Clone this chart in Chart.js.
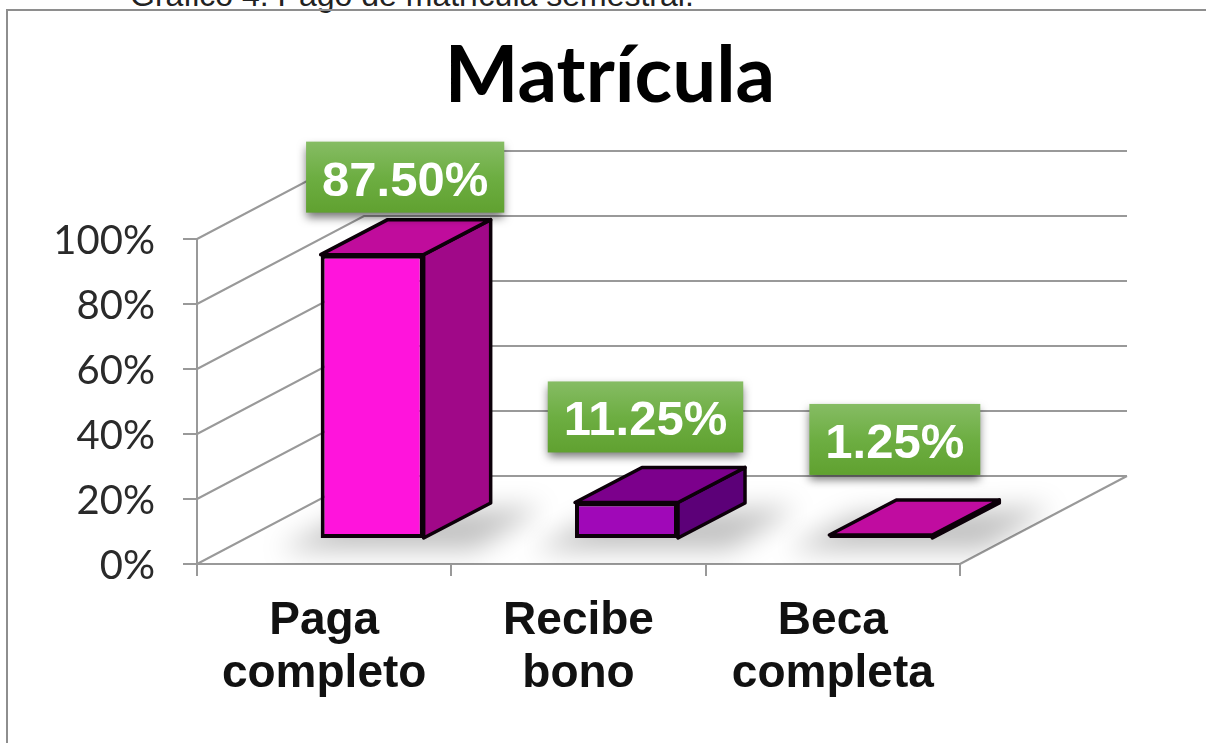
<!DOCTYPE html>
<html>
<head>
<meta charset="utf-8">
<title>Matrícula</title>
<script src="https://cdn.jsdelivr.net/npm/chart.js@4"></script>
<style>
  html, body { margin: 0; height: 100%; background: #fff; overflow: hidden; }
  #caption { position: absolute; left: 130px; top: -23px; font: 32px/36px "Liberation Sans", sans-serif; color: #222; white-space: nowrap; }
  #frame { position: absolute; left: 6px; top: 9px; width: 1300px; height: 800px; border-left: 2px solid #8e8e8e; border-top: 2px solid #8e8e8e; }
  canvas { display: block; filter: blur(0.5px); }
</style>
</head>
<body>
<div id="caption">Gráfico 4. Pago de matrícula semestral.</div>
<div id="frame"><canvas id="chart" width="1204" height="732"></canvas></div>
<script>
const categories = [["Paga", "completo"], ["Recibe", "bono"], ["Beca", "completa"]];
const values = [87.5, 11.25, 1.25];
const yTicks = [0, 20, 40, 60, 80, 100];
const chartTitle = "Matrícula";

// bar colours per category
const frontColors = ["#ff14dc", "#a008b8", "#400038"];
const sideColors = ["#a00888", "#5c0078", "#30002c"];
const topColors = ["#c00c9c", "#7c008c", "#c00ca0"];

// fake 3D: depth of the whole floor, and of the bars standing in the middle of it
const floorDepth = { x: 167, y: -88 };
const barShift = { x: 48, y: -25 };
const barDepth = { x: 67, y: -35 };
const gridColor = "#999999";
const labelShift = [{ x: 33, y: -7 }, { x: 19, y: -15 }, { x: 14, y: -25 }];

function pathOf(ctx, pts) {
    ctx.beginPath();
    pts.forEach((p, i) => i ? ctx.lineTo(p[0], p[1]) : ctx.moveTo(p[0], p[1]));
    ctx.closePath();
}

function barBox(bar) {
    const b = bar.getProps(["x", "y", "base", "width"], true);
    return { left: b.x - b.width / 2, right: b.x + b.width / 2, top: b.y, base: b.base };
}

const walls3d = {
    id: "walls3d",
    beforeDatasetsDraw(chart) {
        const { ctx, chartArea: a, scales: { y } } = chart;
        ctx.save();
        ctx.strokeStyle = gridColor;
        ctx.lineWidth = 2;
        yTicks.forEach(t => {
            const py = y.getPixelForValue(t);
            ctx.beginPath();
            ctx.moveTo(a.left, py);
            ctx.lineTo(a.left + floorDepth.x, py + floorDepth.y);
            ctx.lineTo(a.right + floorDepth.x, py + floorDepth.y);
            ctx.stroke();
        });
        ctx.beginPath();
        ctx.moveTo(a.right, a.bottom);
        ctx.lineTo(a.right + floorDepth.x, a.bottom + floorDepth.y);
        ctx.stroke();

        // soft shadows of the bars on the floor
        ctx.save();
        pathOf(ctx, [[a.left, a.bottom], [a.left + floorDepth.x, a.bottom + floorDepth.y],
            [a.right + floorDepth.x, a.bottom + floorDepth.y], [a.right, a.bottom]]);
        ctx.clip();
        ctx.filter = "blur(13px)";
        ctx.fillStyle = "rgba(0,0,0,0.24)";
        chart.getDatasetMeta(0).data.forEach(bar => {
            const b = barBox(bar);
            const l = b.left + barShift.x, r = b.right + barShift.x, yb = b.base + barShift.y;
            pathOf(ctx, [[l - 42, yb + 12], [l - 42 + barDepth.x, yb + 12 + barDepth.y],
                [r + 52 + barDepth.x, yb + 4 + barDepth.y], [r + 52, yb + 12]]);
            ctx.fill();
        });
        ctx.restore();
        ctx.restore();
    },
    beforeDatasetDraw(chart) {
        chart.ctx.save();
        chart.ctx.translate(barShift.x, barShift.y);
    },
    afterDatasetDraw(chart) {
        const ctx = chart.ctx;
        ctx.strokeStyle = "#0c0009";
        ctx.lineWidth = 3.5;
        ctx.lineJoin = "round";
        chart.getDatasetMeta(0).data.forEach((bar, i) => {
            const b = barBox(bar);
            const dx = barDepth.x, dy = barDepth.y;
            pathOf(ctx, [[b.right, b.top], [b.right + dx, b.top + dy], [b.right + dx, b.base + dy], [b.right, b.base]]);
            ctx.fillStyle = sideColors[i];
            ctx.fill();
            ctx.stroke();
            pathOf(ctx, [[b.left, b.top], [b.left + dx, b.top + dy], [b.right + dx, b.top + dy], [b.right, b.top]]);
            ctx.fillStyle = topColors[i];
            ctx.fill();
            ctx.stroke();
        });
        ctx.restore();
    }
};

const greenLabels = {
    id: "greenLabels",
    afterDraw(chart) {
        const ctx = chart.ctx;
        const h = 71;
        chart.getDatasetMeta(0).data.forEach((bar, i) => {
            const b = barBox(bar);
            const text = values[i].toFixed(2) + "%";
            ctx.save();
            ctx.font = 'bold 49px "Liberation Sans", sans-serif';
            const w = ctx.measureText(text).width + 32;
            const cx = (b.left + b.right) / 2 + barShift.x + labelShift[i].x;
            const bottom = b.top + barShift.y + barDepth.y + labelShift[i].y;
            const grad = ctx.createLinearGradient(0, bottom - h, 0, bottom);
            grad.addColorStop(0, "#86bc64");
            grad.addColorStop(0.5, "#6dae42");
            grad.addColorStop(1, "#60a130");
            ctx.shadowColor = "rgba(0,0,0,0.55)";
            ctx.shadowBlur = 9;
            ctx.shadowOffsetY = 5;
            ctx.fillStyle = grad;
            ctx.fillRect(cx - w / 2, bottom - h, w, h);
            ctx.shadowColor = "transparent";
            ctx.fillStyle = "#ffffff";
            ctx.textAlign = "center";
            ctx.textBaseline = "middle";
            ctx.fillText(text, cx, bottom - h / 2 + 5);
            ctx.restore();
        });
    }
};

new Chart(document.getElementById("chart"), {
    type: "bar",
    data: {
        labels: categories,
        datasets: [{
            data: values,
            backgroundColor: frontColors,
            borderColor: "#0c0009",
            borderWidth: 4,
            borderSkipped: false,
            barPercentage: 0.405,
            categoryPercentage: 1,
            clip: false
        }]
    },
    plugins: [walls3d, greenLabels],
    options: {
        responsive: false,
        animation: false,
        plugins: {
            legend: { display: false },
            tooltip: { enabled: false },
            title: {
                display: true,
                text: chartTitle,
                color: "#000000",
                font: { family: "Lato", weight: "bold", size: 78, lineHeight: 1.2 },
                padding: { top: 19, bottom: 115.4 }
            }
        },
        scales: {
            x: {
                border: { color: gridColor, width: 2 },
                grid: { color: gridColor, lineWidth: 2, drawOnChartArea: false, tickLength: 12 },
                ticks: {
                    color: "#111111",
                    padding: 19,
                    maxRotation: 0,
                    autoSkip: false,
                    font: { family: "Liberation Sans", weight: "bold", size: 46, lineHeight: 1.15 }
                },
                afterFit(scale) { scale.height = 179; }
            },
            y: {
                min: 0,
                max: 100,
                border: { color: gridColor, width: 2 },
                grid: { color: gridColor, lineWidth: 2, drawOnChartArea: false, tickLength: 14 },
                ticks: {
                    stepSize: 20,
                    color: "#2a2a2a",
                    padding: 28,
                    labelOffset: 2,
                    font: { family: "Lato", size: 40 },
                    callback: v => v + "%"
                },
                afterFit(scale) { scale.width = 189; }
            },
            // empty axis that keeps the right part of the canvas free for the floor depth
            spacer: {
                axis: "y",
                position: "right",
                border: { display: false },
                grid: { display: false },
                ticks: { display: false },
                afterFit(scale) { scale.width = 252; }
            }
        }
    }
});
</script>
</body>
</html>
